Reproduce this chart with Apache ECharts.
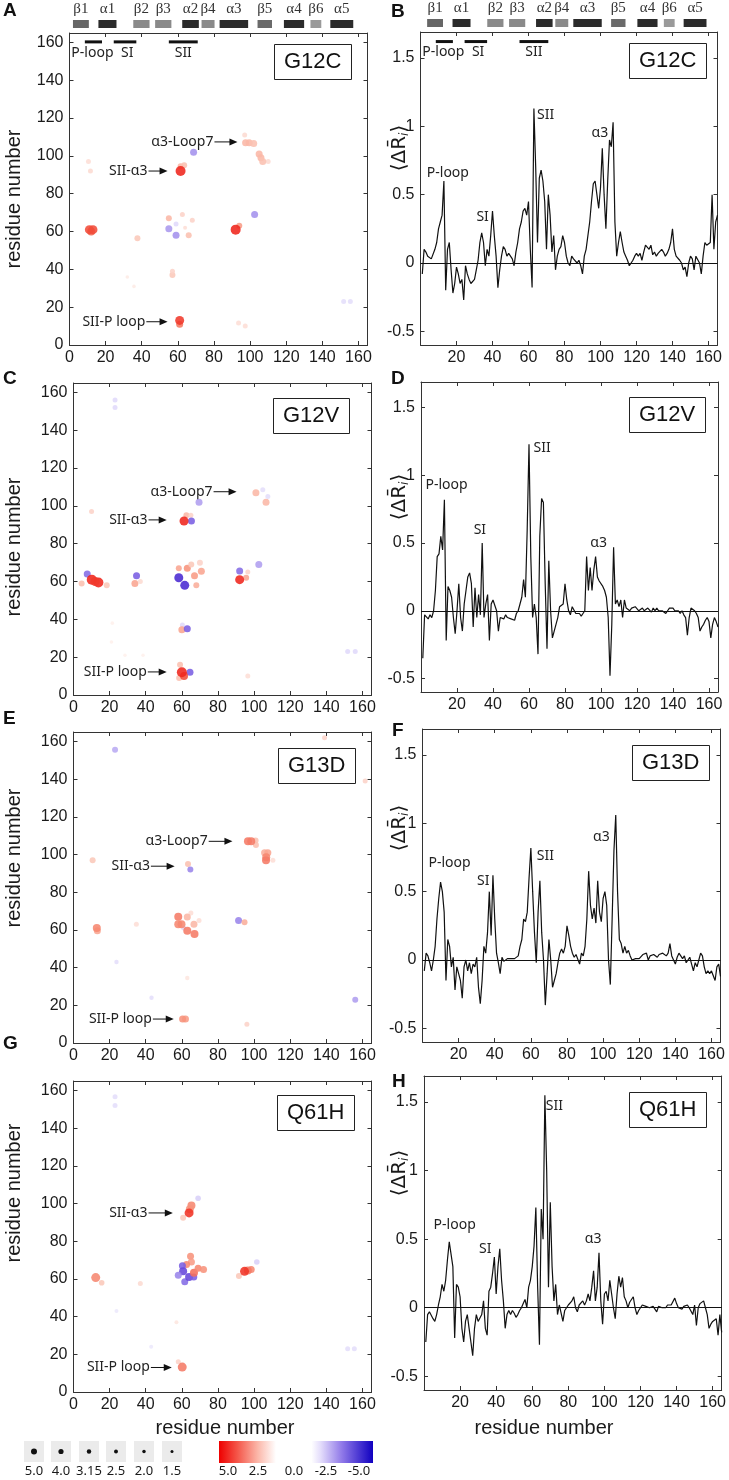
<!DOCTYPE html>
<html><head><meta charset="utf-8">
<script src="https://cdn.jsdelivr.net/npm/echarts@6.0.0/dist/echarts.min.js"></script>
<style>html,body{margin:0;padding:0;background:#fff}#c{width:729px;height:1480px}</style>
</head><body><div id="c"></div>
<script>
// ---------------- DATA ----------------
const residues = Array.from({length:165},(_,i)=>i+1);

const dR_G12C = [-0.08,0.1,0.08,0.05,0.04,0.03,0.02,0.1,0.15,0.25,
0.3,0.35,0.6,-0.2,0.1,0.15,-0.05,-0.22,-0.15,-0.03,
-0.08,-0.15,-0.12,-0.27,-0.02,-0.08,-0.12,-0.15,-0.15,-0.12,
-0.05,0.02,0.15,0.22,0.15,-0.02,0.1,0.05,0.2,0.38,
0.2,0.05,-0.18,-0.05,0.05,0.12,0.1,0.05,0.07,0.05,
0.03,-0.02,0.08,0.15,0.25,0.3,0.38,0.4,0.35,0.45,
0.1,-0.18,1.13,0.7,0.15,0.62,0.68,0.6,0.45,0.1,
0.5,0.35,0.08,0.2,-0.05,0.05,0.1,0.12,0.2,0.15,
0.05,0.0,-0.02,0.05,0.03,0.04,0.0,0.02,-0.02,-0.08,
0.05,0.1,0.2,0.3,0.45,0.58,0.6,0.5,0.4,0.55,
0.84,0.5,0.25,0.6,0.9,0.85,1.03,0.3,0.05,0.15,
0.23,0.15,0.08,0.05,0.02,-0.02,-0.03,0.02,0.05,0.07,
0.05,0.07,0.02,0.08,0.13,0.12,0.1,0.13,0.06,0.08,
0.05,0.07,0.06,0.1,0.08,0.05,0.07,0.1,0.15,0.25,
0.1,0.05,0.05,0.02,0.0,-0.05,-0.03,-0.1,0.0,0.05,
0.03,-0.05,0.05,0.04,0.0,-0.08,0.05,0.15,0.13,0.12,
0.15,0.5,0.1,0.3,0.35];

const dR_G12V = [-0.35,-0.03,-0.04,-0.06,-0.03,-0.05,0.0,0.15,0.4,0.42,
0.55,0.45,0.82,-0.22,0.18,0.15,0.1,-0.05,-0.17,0.0,
0.2,-0.05,-0.15,0.05,0.15,0.25,0.28,0.2,-0.12,0.17,
-0.05,0.12,-0.03,0.5,-0.05,0.05,0.12,-0.22,0.05,0.08,
0.08,0.0,-0.15,-0.05,-0.04,-0.06,-0.03,-0.05,-0.04,-0.06,
-0.05,-0.07,-0.02,0.0,0.05,0.1,0.23,0.1,0.6,1.23,
0.4,-0.05,0.05,-0.05,-0.32,0.55,0.83,0.8,0.2,-0.28,
0.37,0.0,-0.2,-0.15,-0.1,-0.05,0.03,0.02,0.05,0.2,
0.08,0.0,-0.03,0.03,0.02,-0.02,-0.03,-0.02,-0.04,-0.02,
0.0,0.4,0.15,0.32,0.15,0.3,0.4,0.25,0.22,0.22,
0.18,0.15,0.1,-0.05,-0.48,-0.1,0.47,0.05,0.08,0.03,
0.08,-0.05,0.08,0.02,0.03,0.0,0.02,0.01,0.03,0.02,
0.0,0.01,0.02,0.0,0.01,0.02,0.01,-0.01,0.02,0.0,
0.02,0.0,0.01,0.0,-0.01,-0.02,0.0,0.02,0.03,0.02,
0.0,-0.01,0.0,-0.02,0.0,-0.03,-0.05,-0.18,-0.05,0.02,
0.01,0.0,-0.02,-0.05,-0.15,-0.12,-0.1,-0.07,-0.05,-0.08,
-0.2,-0.1,-0.05,-0.08,-0.12];

const dR_G13D = [-0.08,0.05,0.03,-0.02,-0.08,0.0,0.1,0.3,0.45,0.57,
0.5,0.35,-0.15,0.15,0.1,-0.05,0.02,-0.22,-0.05,-0.1,
-0.15,-0.28,-0.05,0.0,-0.08,-0.02,-0.1,-0.03,-0.05,0.02,
-0.2,-0.32,-0.15,0.1,0.05,0.2,0.5,0.18,0.62,0.3,
0.05,-0.02,-0.1,0.02,-0.01,0.0,0.01,0.02,0.01,0.02,
0.01,0.02,0.03,0.1,0.15,0.3,0.28,0.35,0.6,0.82,
0.5,0.2,-0.02,0.35,0.58,0.2,0.0,-0.33,-0.1,0.15,
0.0,-0.2,-0.15,-0.1,-0.02,0.05,0.08,0.05,0.1,0.25,
0.18,0.1,0.05,0.02,0.04,0.03,-0.03,0.05,0.03,0.1,
0.3,0.65,0.4,0.3,0.38,0.27,0.58,0.35,0.28,0.45,
0.5,0.4,0.0,-0.18,0.3,0.8,1.06,0.5,0.15,0.12,
0.05,0.1,0.05,0.07,0.03,0.0,0.0,0.01,0.0,0.01,
0.02,0.04,0.03,0.05,0.0,0.03,0.02,0.04,0.05,0.02,
0.04,0.03,0.05,0.04,0.03,0.05,0.12,0.03,0.03,-0.03,
0.02,0.05,0.03,0.01,0.03,-0.02,0.0,0.02,-0.03,-0.08,
-0.02,-0.05,0.0,0.05,0.03,-0.05,-0.1,-0.08,-0.1,-0.08,
-0.07,-0.15,-0.05,-0.03,-0.12];

const dR_Q61H = [-0.25,-0.05,-0.03,-0.04,-0.08,-0.1,-0.05,0.02,0.08,0.17,
0.12,0.2,0.35,0.48,0.48,0.3,-0.22,0.17,0.15,0.08,
-0.15,-0.25,-0.1,-0.05,-0.15,-0.25,-0.35,-0.15,-0.05,-0.1,
-0.1,-0.05,0.05,-0.15,-0.2,0.12,0.15,0.25,0.37,0.1,
0.3,0.43,0.2,0.05,-0.15,-0.05,-0.02,-0.05,-0.02,-0.04,
-0.07,-0.05,-0.02,0.0,0.03,0.06,0.0,0.15,0.2,0.3,
0.45,0.73,0.15,-0.27,0.72,0.5,1.55,1.0,0.15,0.77,
0.3,0.05,0.17,-0.05,0.02,0.02,-0.1,-0.02,0.0,0.02,
0.03,0.05,0.08,0.0,-0.03,0.02,0.03,0.05,0.02,0.05,
0.1,0.05,0.15,0.27,0.05,0.15,0.4,0.05,-0.12,0.1,
0.12,0.05,0.2,0.1,0.0,-0.08,0.1,0.23,0.15,0.22,
0.08,0.05,0.0,0.04,0.05,0.08,0.0,-0.05,-0.02,0.0,
0.02,0.01,0.01,0.02,0.0,0.01,0.01,0.0,-0.03,0.01,
0.01,0.0,0.01,0.0,0.02,0.01,0.02,0.03,0.07,0.03,
0.0,0.01,-0.01,0.01,0.0,0.02,0.0,0.0,-0.05,0.02,
-0.13,0.0,0.03,0.04,0.05,0.0,-0.05,-0.15,-0.12,-0.1,
-0.1,-0.08,-0.2,-0.05,-0.18];

// contact maps: [residue i, residue j, change (colour), magnitude (size)]
const contacts_G12C = [
[32,36,0.8,1.8],[35.7,31,0.8,1.8],[151.8,23,-1.2,2.5],[155.5,23,-1.2,2.5],[93.6,11.7,1.2,2.5],[97.3,10,1.2,2.5],
[10.5,97,1.2,2.5],[11.6,92,1.3,2.5],[37.6,56.5,1.8,3],[57,37,1.8,3],[57,39,1.5,2.5],
[97,111,1.3,2.5],[110,97,1.3,2.5],[97.5,107,2.2,3.5],[99.5,107,2.2,3.5],[102,106.5,2.0,3.5],
[105,101,2.2,3.5],[106,99,2.2,3.5],[107,97,2.0,3.5],
[68.7,102,-2.6,3.5],[102.5,69,-2.6,3.5],[55,61.5,-2.5,3.5],[59,58,-2.6,3.5],[59,64,-1.3,2.5],
[55,67,2.2,3],[62.5,69,1.5,2.5],[68,66,1.5,2.5],[66,58,2.0,3],[64,62,1.2,2],
[61.5,94.5,2.2,3],[63.5,95,2.0,3],[94,63,2.8,3],
[12,60,3.8,4],[11,61,4.2,4.5],[13,61,4.2,4.5],
[61.5,92,4.8,5],[61,11,3.5,3.5],[61,13,4.5,4.5],[92,61,4.8,5]];

const contacts_G12V = [
[21.5,38,0.6,1.8],[21,28,0.6,1.8],[28.5,21,0.6,1.8],[38.5,21,0.6,1.8],[96.5,10,1.2,2.5],
[23,156,-1.3,2.5],[23,152,-1.3,2.5],[151.8,23,-1.3,2.5],[156,23,-1.3,2.5],[10,97,1.5,2.5],
[101,107,2.2,3.5],[106.6,102,2.2,3.5],[104.8,108.5,-1.2,2.5],[107.6,105,-1.2,2.5],
[69.5,102,-2.4,3.5],[102.6,69,-2.4,3.5],
[62.5,95,2.2,3],[65,95,1.5,2.5],[65.3,92,-3.4,3.5],[61.2,92,4.8,4.5],
[4.5,59,2.0,3],[18.4,58,1.8,3],[7.6,64,-3.2,3.5],
[34,59,2.6,3.5],[37,60,1.3,2.5],[34.9,63,-3.4,3.5],
[58.3,67,2.6,3],[63,67,3.0,3.5],[65.2,69,1.8,3],[70,70,1.5,3],[67,63,2.8,3.5],[70.8,65.5,2.6,3.5],[68,58,2.4,3],
[58.3,62,-4.3,4.5],[61.6,58,-4.3,4.5],
[95.6,62,2.6,3],[96.5,65,1.5,2.5],[92,65.6,-3.2,3.5],[92,61,4.8,4.5],
[60.3,37,-1.3,2.5],[60,34.5,2.6,3.5],[63,35,-3.4,3.5],
[59,16,2.0,3],[58.5,9,2.0,3],[64.5,12,-3.4,3.5],
[10.1,61,4.8,5],[13.8,59.5,4.8,5],[12,60,4.5,4.5],
[61.2,10,4.2,4],[60,12,4.8,5]];

const contacts_G13D = [
[23.8,43,-1.2,2.2],[43.2,24,-1.2,2.2],[63,34.5,1.0,2.2],[96,10,1.5,2.5],[34.8,63,1.2,2.5],
[23,155.6,-2.2,3],[139,162,1.5,2.5],[161.5,139,1.5,2.5],[156,23,-2.4,3],
[10.6,97,1.8,3],[110.4,97,1.2,2.5],
[100.8,107.5,2.0,3],[101,105,2.0,3],[105.8,101,2.4,3.5],[107.6,101,2.6,3.5],
[96.6,107,3.4,4],[98.4,107,3.4,4],[106.7,98.5,3.2,4],[106.6,97,3.4,4],
[63.4,95,2.0,3],[64.7,92,-2.8,3],
[65,69,1.2,2.5],[69.5,65,1.2,2.5],[61,61,-1.3,2.5],[66.7,63,2.2,3.5],[63,66.8,2.2,3.5],
[58,67,3.4,4],[59.8,63,3.2,4],[58,63,3.2,4],[63,59.5,3.4,4],[67,57.8,3.4,4],
[91.4,65,-2.8,3.5],[94.7,64,2.4,3],
[13.2,59.6,2.6,3.5],[12.9,61,3.2,4],
[62,12.7,2.8,3.5],[60.4,12.7,3.0,3.5]];

const contacts_Q61H = [
[23.8,43,-1.0,2],[43,24,-1.0,2],[57,37,1.0,2],[151.8,23,-1.2,2.5],[155.5,23,-1.2,2.5],
[23,156.6,-1.2,2.5],[23,152,-1.2,2.5],[69,102.8,-1.5,2.8],[101.5,69,-1.5,2.8],
[37,57.6,1.3,2.5],[15.6,58,1.8,2.8],[58,16,1.5,2.5],[60.7,92.5,1.8,3],[91.6,61.5,1.8,3],
[65.3,99,3.2,4],[64.4,97,3.0,4],[64,95,4.6,4.5],
[64.8,72,3.0,3.5],[65.3,69,2.8,3.5],[62.6,67.6,3.2,3.5],
[60.3,67,-3.4,3.5],[60.7,64,-3.8,4],[58,62,-2.8,3.5],[61.6,58.5,-3.2,3.5],[64,61,-3.8,4],[66.6,61,-3.4,3.5],
[66.7,63.3,3.6,4],[69,65.6,3.2,3.5],[72,65,3.0,3.5],
[98.4,65,3.2,3.5],[96.5,64.5,3.4,4],[94.7,64,4.6,4.5],
[12.3,60.7,3.2,4.5],[60.2,13.2,3.4,4.5]];

// secondary structure (residue ranges)
const ssNames = ['β1','α1','β2','β3','α2','β4','α3','β5','α4','β6','α5'];
const ssStart = [2.8,16.9,36.2,48.3,63.3,74.0,84.0,105.0,119.6,134.3,145.3];
const ssEnd   = [11.6,26.9,45.2,57.3,72.5,81.2,99.8,113.0,130.8,140.3,158.0];

// functional regions
const regionNames = ['P-loop','SI','SII'];
const regionStart = [8.5,24.5,55];
const regionEnd   = [18,37,71];
const regionLabelX = [12.7,32,63];

// tick labels
const contactTicks = [0,20,40,60,80,100,120,140,160];
const profileXTicks = [20,40,60,80,100,120,140,160];
const profileYTicks = [-0.5,0,0.5,1,1.5];
const sizeLegendLabels = ['5.0','4.0','3.15','2.5','2.0','1.5'];
const sizeLegendValues = [5.0,4.0,3.15,2.5,2.0,1.5];
const colorLegendLabels = ['5.0','2.5','0.0','-2.5','-5.0'];

// ---------------- STYLE / LAYOUT ----------------
const FONT = '"Liberation Sans", Arial, sans-serif';
const AFONT = '"Noto Sans", "DejaVu Sans", sans-serif';
const ssColor = ['#666','#2b2b2b','#8a8a8a','#8a8a8a','#2b2b2b','#8a8a8a','#2b2b2b','#6a6a6a','#2b2b2b','#9a9a9a','#2b2b2b'];

const panels = [
 {key:'A', kind:'map', name:'G12C', data:contacts_G12C, g:{left:69.5,top:33,width:298,height:312}, box:[274,44],
  ann:[['α3-Loop7',79.7,93,107.4],['SII-α3',43.2,54.3,92],['SII-P loop',42,54.3,12.3]], regions:[160.3,154.5], ss:67.9},
 {key:'B', kind:'prof', name:'G12C', data:dR_G12C, g:{left:420.5,top:32,width:297,height:313}, box:[629,43],
  peaks:[['P-loop',15.2,0.66],['SI',34.5,0.34],['SII',69.5,1.08],['α3',99.7,0.95]], regions:[1.62,1.54], ss:422.1},
 {key:'C', kind:'map', name:'G12V', data:contacts_G12V, g:{left:73.5,top:383,width:298,height:312}, box:[273,398],
  ann:[['α3-Loop7',77,90.3,107.5],['SII-α3',41,51.6,92.6],['SII-P loop',40.6,51.6,12.2]]},
 {key:'D', kind:'prof', name:'G12V', data:dR_G12V, g:{left:421,top:382,width:297,height:310}, box:[629,397],
  peaks:[['P-loop',14.2,0.93],['SI',32.7,0.6],['SII',67.3,1.2],['α3',98.7,0.5]]},
 {key:'E', kind:'map', name:'G13D', data:contacts_G13D, g:{left:73.5,top:732,width:298,height:311}, box:[278,748],
  ann:[['α3-Loop7',74.3,88,107],['SII-α3',42.3,56,93.8],['SII-P loop',43.4,55.5,12.7]]},
 {key:'F', kind:'prof', name:'G13D', data:dR_G13D, g:{left:422.5,top:729,width:298,height:313}, box:[632,745],
  peaks:[['P-loop',15,0.71],['SI',33.6,0.58],['SII',68,0.76],['α3',99,0.9]]},
 {key:'G', kind:'map', name:'Q61H', data:contacts_Q61H, g:{left:73.5,top:1081,width:298,height:311}, box:[277,1095],
  ann:[['SII-α3',41,55,95],['SII-P loop',42.3,54.4,13]]},
 {key:'H', kind:'prof', name:'Q61H', data:dR_Q61H, g:{left:424,top:1076,width:298,height:314}, box:[629,1092],
  peaks:[['P-loop',17,0.6],['SI',34,0.43],['SII',72.3,1.47],['α3',93.7,0.5]]}
];

const option = {animation:false, backgroundColor:'#fff', grid:[], xAxis:[], yAxis:[], series:[], title:[], graphic:[], visualMap:[]};
const scatterIdx = [];

function addAxes(gi, xr, yr, xt, yt){
  const xi = option.xAxis.length, yi = option.yAxis.length;
  const line = {show:true, onZero:false, lineStyle:{color:'#333', width:1}};
  const tick = v => ({show:true, inside:true, length:4, customValues:v, lineStyle:{color:'#333', width:1}});
  const lab = v => ({show:true, customValues:v, margin:5, fontSize:16, color:'#1a1a1a', fontFamily:FONT});
  option.xAxis.push({gridIndex:gi, type:'value', min:xr[0], max:xr[1], position:'bottom', axisLine:line, axisTick:tick(xt), axisLabel:lab(xt), splitLine:{show:false}});
  option.xAxis.push({gridIndex:gi, type:'value', min:xr[0], max:xr[1], position:'top', axisLine:line, axisTick:tick(xt), axisLabel:{show:false}, splitLine:{show:false}});
  option.yAxis.push({gridIndex:gi, type:'value', min:yr[0], max:yr[1], position:'left', axisLine:line, axisTick:tick(yt), axisLabel:Object.assign(lab(yt),{margin:6}), splitLine:{show:false}});
  option.yAxis.push({gridIndex:gi, type:'value', min:yr[0], max:yr[1], position:'right', axisLine:line, axisTick:tick(yt), axisLabel:{show:false}, splitLine:{show:false}});
  return [xi, yi];
}

function textEl(text, x, y, font, extra){
  return Object.assign({type:'text', x:x, y:y, silent:true, style:{text:text, font:font, fill:'#1a1a1a', align:'center', verticalAlign:'middle'}}, extra||{});
}

panels.forEach(p => {
  const gi = option.grid.length;
  option.grid.push(Object.assign({}, p.g));
  let xi, yi;
  if (p.kind === 'map') {
    [xi, yi] = addAxes(gi, [0,165], [0,165], contactTicks, contactTicks);
    scatterIdx.push(option.series.length);
    option.series.push({type:'scatter', xAxisIndex:xi, yAxisIndex:yi, data:p.data,
      symbolSize: v => v[3]*2, itemStyle:{opacity:0.88}, silent:true});
    const ann = p.ann;
    option.series.push({type:'custom', xAxisIndex:xi, yAxisIndex:yi, silent:true, clip:false,
      data: ann.map(a => [a[1], a[2], a[3]]),
      encode:{x:[0,1], y:2},
      renderItem:(params, api) => {
        const a = ann[params.dataIndex];
        const p1 = api.coord([api.value(0), api.value(2)]);
        const p2 = api.coord([api.value(1), api.value(2)]);
        return {type:'group', children:[
          {type:'text', style:{text:a[0], x:p1[0], y:p1[1], align:'right', verticalAlign:'middle', font:'14px '+AFONT, fill:'#222'}},
          {type:'line', shape:{x1:p1[0]+1, y1:p1[1], x2:p2[0]-7, y2:p2[1]}, style:{stroke:'#111', lineWidth:1}},
          {type:'polygon', shape:{points:[[p2[0],p2[1]],[p2[0]-8,p2[1]-3.5],[p2[0]-8,p2[1]+3.5]]}, style:{fill:'#111'}}
        ]};
      }});
  } else {
    [xi, yi] = addAxes(gi, [0,165], [-0.6,1.69], profileXTicks, profileYTicks);
    option.series.push({type:'line', xAxisIndex:xi, yAxisIndex:yi, silent:true,
      data: residues.map((r,i) => [r, p.data[i]]), symbol:'none', showSymbol:false,
      lineStyle:{color:'#111', width:1.2},
      markLine:{silent:true, symbol:'none', label:{show:false}, lineStyle:{color:'#111', type:'solid', width:1.2}, data:[{yAxis:0}]}});
    const pk = p.peaks;
    option.series.push({type:'custom', xAxisIndex:xi, yAxisIndex:yi, silent:true, clip:false,
      data: pk.map(a => [a[1], a[2]]),
      renderItem:(params, api) => {
        const c = api.coord([api.value(0), api.value(1)]);
        return {type:'text', style:{text:pk[params.dataIndex][0], x:c[0], y:c[1], align:'center', verticalAlign:'middle', font:'14px '+AFONT, fill:'#222'}};
      }});
  }
  // functional region bars (top panels only)
  if (p.regions) {
    const yl = p.regions[0], yt = p.regions[1];
    option.series.push({type:'custom', xAxisIndex:xi, yAxisIndex:yi, silent:true, clip:false,
      data: regionNames.map((n,i) => [regionStart[i], regionEnd[i], regionLabelX[i]]),
      encode:{x:[0,1,2]},
      renderItem:(params, api) => {
        const a = api.coord([api.value(0), yl]);
        const b = api.coord([api.value(1), yl]);
        const t = api.coord([api.value(2), yt]);
        return {type:'group', children:[
          {type:'line', shape:{x1:a[0], y1:a[1], x2:b[0], y2:b[1]}, style:{stroke:'#111', lineWidth:3}},
          {type:'text', style:{text:regionNames[params.dataIndex], x:t[0], y:t[1], align:'center', verticalAlign:'middle', font:'14px '+AFONT, fill:'#222'}}
        ]};
      }});
    // secondary structure strip above the panel
    const sgi = option.grid.length;
    option.grid.push({left:p.ss, top:p.g.top-13, width:p.g.width, height:8});
    const sxi = option.xAxis.length, syi = option.yAxis.length;
    option.xAxis.push({gridIndex:sgi, type:'value', min:0, max:165, show:false});
    option.yAxis.push({gridIndex:sgi, type:'value', min:0, max:1, show:false});
    option.series.push({type:'custom', xAxisIndex:sxi, yAxisIndex:syi, silent:true, clip:false,
      data: ssNames.map((n,i) => [ssStart[i], ssEnd[i]]),
      encode:{x:[0,1]},
      renderItem:(params, api) => {
        const a = api.coord([api.value(0), 1]);
        const b = api.coord([api.value(1), 0]);
        return {type:'group', children:[
          {type:'rect', shape:{x:a[0], y:a[1], width:b[0]-a[0], height:b[1]-a[1]}, style:{fill:ssColor[params.dataIndex]}},
          {type:'text', style:{text:ssNames[params.dataIndex], x:(a[0]+b[0])/2, y:a[1]-3, align:'center', verticalAlign:'bottom', font:'15px "Liberation Serif", "DejaVu Serif", serif', fill:'#333'}}
        ]};
      }});
  }
  // mutation label box
  option.title.push({text:p.name, left:p.box[0], top:p.box[1], padding:[5,10], borderColor:'#222', borderWidth:1,
    textStyle:{fontSize:22, fontWeight:'normal', fontFamily:FONT, color:'#111', lineHeight:26}});
});

option.visualMap.push({type:'continuous', show:false, min:-5, max:5, dimension:2, seriesIndex:scatterIdx,
  inRange:{color:['#2000c0','#5a3ad8','#8f78e8','#c4b8f4','#ece8fc','#ffffff','#fde6df','#fbc0b0','#f7937c','#f25844','#ee1a12']}});

// panel letters
const letters = [['A',3,11],['B',391,12],['C',3,379],['D',391,379],['E',3,719],['F',392,731],['G',3,1044],['H',392,1082]];
letters.forEach(l => option.graphic.push(textEl(l[0], l[1], l[2], 'bold 19px '+FONT, {style:{text:l[0], font:'bold 19px '+FONT, fill:'#111', align:'left', verticalAlign:'middle'}})));

// axis titles
[199,547,858,1193].forEach(y => option.graphic.push(textEl('residue number', 14, y, '20px '+FONT, {rotation:Math.PI/2})));
[148,497,828,1173].forEach(y => option.graphic.push({type:'text', x:400, y:y, rotation:Math.PI/2, silent:true,
  style:{text:'⟨ΔR̄{s|i}⟩', rich:{s:{font:'italic 12px "DejaVu Sans"', fill:'#1a1a1a', padding:[10,0,0,0]}}, font:'20px "DejaVu Sans", sans-serif', fill:'#1a1a1a', align:'center', verticalAlign:'middle'}}));
option.graphic.push(textEl('residue number', 225, 1428, '20px '+FONT));
option.graphic.push(textEl('residue number', 544, 1428, '20px '+FONT));

// size legend
const sizeBoxX = [24,51,79,106,134,162];
sizeLegendValues.forEach((v,i) => {
  const x = sizeBoxX[i];
  option.graphic.push({type:'rect', silent:true, shape:{x:x, y:1441, width:20, height:21}, style:{fill:'#ebebeb'}});
  option.graphic.push({type:'circle', silent:true, shape:{cx:x+10, cy:1451.5, r:0.9+v*0.42}, style:{fill:'#111'}});
  option.graphic.push(textEl(sizeLegendLabels[i], x+10, 1471, '13px '+AFONT));
});
// colour legend
option.graphic.push({type:'rect', silent:true, shape:{x:219, y:1441, width:154, height:22},
  style:{fill:{type:'linear', x:0, y:0, x2:1, y2:0, colorStops:[
    {offset:0, color:'#ee0000'},{offset:0.12, color:'#f4574a'},{offset:0.25, color:'#fbb6a8'},{offset:0.37, color:'#ffffff'},
    {offset:0.6, color:'#ffffff'},{offset:0.66, color:'#e4ddfb'},{offset:0.8, color:'#8f78e8'},{offset:1, color:'#1000c0'}]}}});
const colorLabelX = [228,258,294,326,359];
colorLegendLabels.forEach((t,i) => option.graphic.push(textEl(t, colorLabelX[i], 1471, '13px '+AFONT)));

const chart = echarts.init(document.getElementById('c'), null, {renderer:'canvas'});
chart.setOption(option);
</script></body></html>
